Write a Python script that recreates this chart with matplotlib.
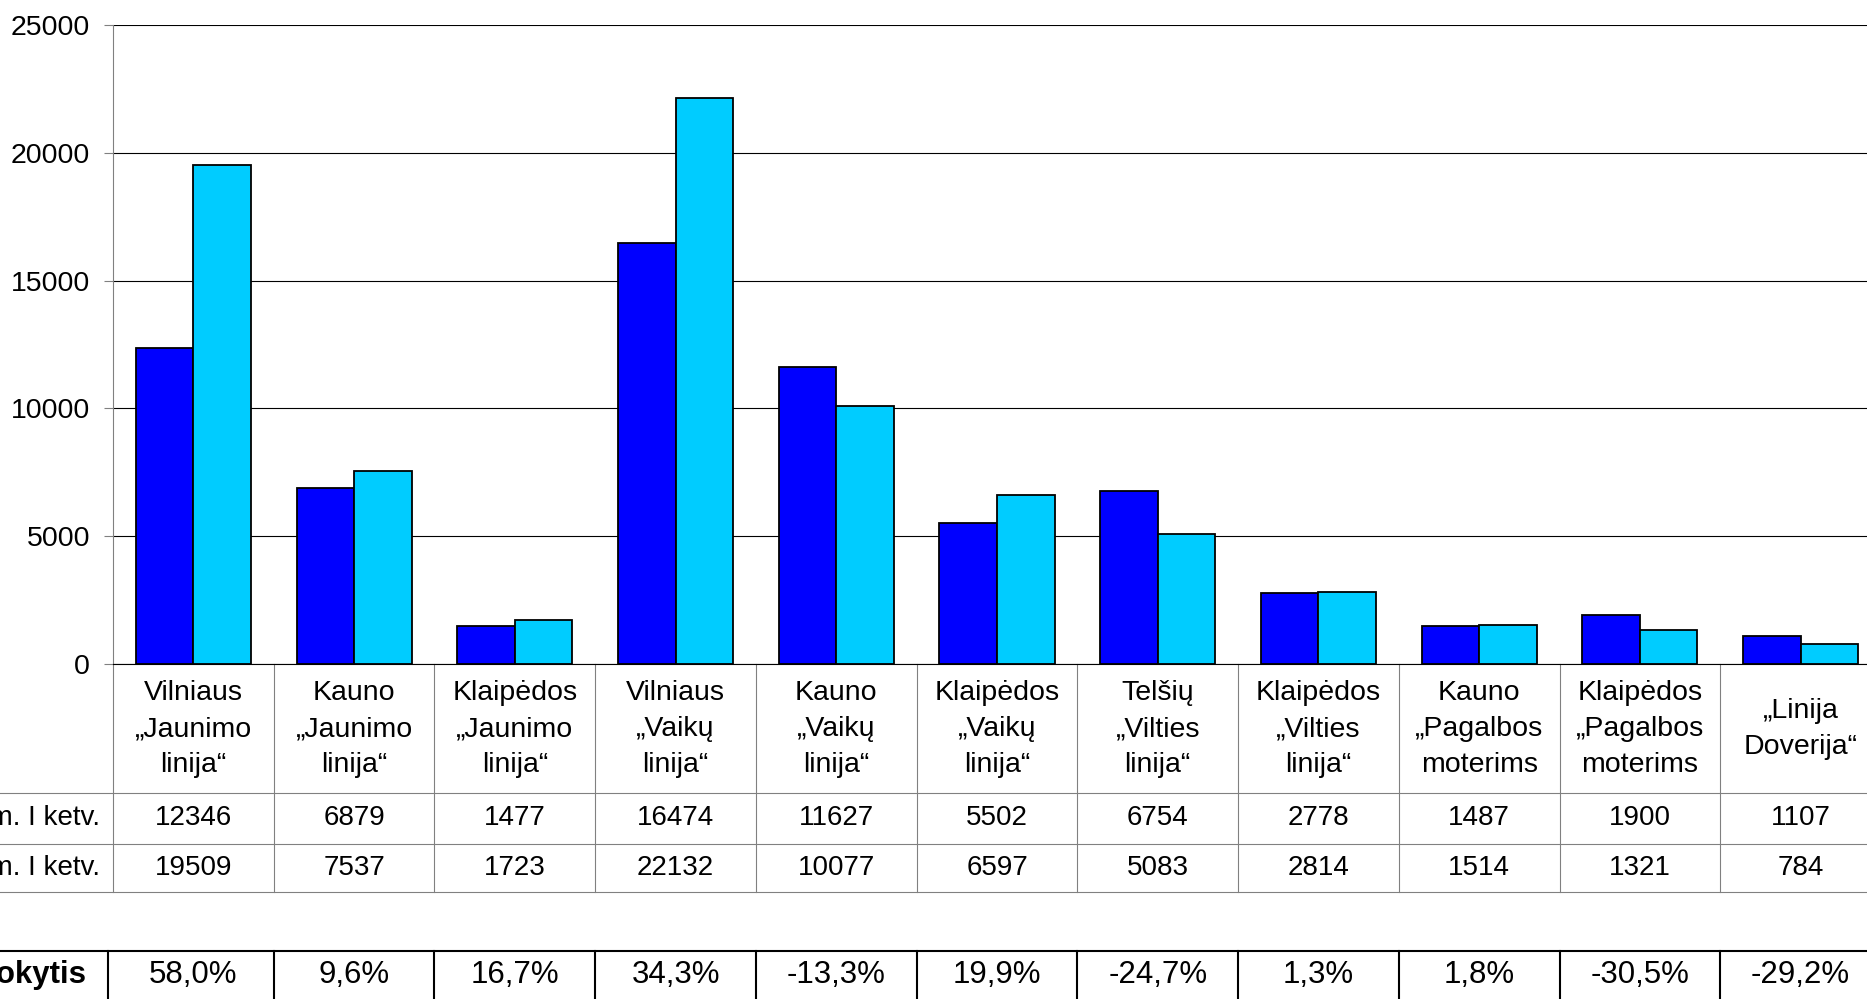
import matplotlib
matplotlib.use('Agg')
import matplotlib.pyplot as plt
import matplotlib.transforms as mtransforms
from matplotlib.lines import Line2D
import numpy as np

plt.rcParams['font.family'] = ['Liberation Sans', 'DejaVu Sans']
plt.rcParams['font.size'] = 20

categories = [
    'Vilniaus\n„Jaunimo\nlinija“', 'Kauno\n„Jaunimo\nlinija“', 'Klaipėdos\n„Jaunimo\nlinija“',
    'Vilniaus\n„Vaikų\nlinija“', 'Kauno\n„Vaikų\nlinija“', 'Klaipėdos\n„Vaikų\nlinija“',
    'Telšių\n„Vilties\nlinija“', 'Klaipėdos\n„Vilties\nlinija“', 'Kauno\n„Pagalbos\nmoterims',
    'Klaipėdos\n„Pagalbos\nmoterims', '„Linija\nDoverija“',
]
row_labels = ['2010 m. I ketv.', '2011 m. I ketv.']
values_prev = [12346, 6879, 1477, 16474, 11627, 5502, 6754, 2778, 1487, 1900, 1107]
values_curr = [19509, 7537, 1723, 22132, 10077, 6597, 5083, 2814, 1514, 1321, 784]
change_pct = [58.0, 9.6, 16.7, 34.3, -13.3, 19.9, -24.7, 1.3, 1.8, -30.5, -29.2]
change_label = 'Pokytis'
yticks = [0, 5000, 10000, 15000, 20000, 25000]

W, H = 1867, 999
fig = plt.figure(figsize=(W / 100, H / 100), dpi=100)


def fy(py):
    # pixel row from top -> figure fraction
    return 1 - py / H


ax = fig.add_axes([113 / W, fy(664), 1768 / W, 639 / H])
x = np.arange(len(categories))
bw = 0.358
ax.bar(x - bw / 2, values_prev, bw, color='#0000FF', edgecolor='black', linewidth=1.3, zorder=3)
ax.bar(x + bw / 2, values_curr, bw, color='#00CCFF', edgecolor='black', linewidth=1.3, zorder=3)

ax.set_xlim(-0.5, len(categories) - 0.5)
ax.set_ylim(0, 25000)
ax.set_yticks(yticks)
ax.set_xticks([])
ax.yaxis.grid(True, color='black', linewidth=0.8)
ax.set_axisbelow(True)
ax.tick_params(axis='y', length=6.5, width=0.8, pad=10, color='#808080', labelsize=20.5)
for s in ['top', 'right']:
    ax.spines[s].set_visible(False)
ax.spines['left'].set_color('#808080')
ax.spines['bottom'].set_color('black')

# table under the chart
tr = mtransforms.blended_transform_factory(ax.transData, fig.transFigure)
grey = '#808080'

for i, cat in enumerate(categories):
    ax.text(i, fy(729), cat, ha='center', va='center', transform=tr,
            fontsize=20.5, linespacing=1.5)
    ax.text(i, fy(818), str(values_prev[i]), ha='center', va='center', transform=tr)
    ax.text(i, fy(868), str(values_curr[i]), ha='center', va='center', transform=tr)
    pct = f'{change_pct[i]:.1f}%'.replace('.', ',')
    ax.text(i, fy(975), pct, ha='center', va='center', transform=tr, fontsize=22.5)

for k in range(len(categories) + 1):
    ax.add_line(Line2D([k - 0.5, k - 0.5], [fy(664), fy(892)], transform=tr,
                       color=grey, linewidth=0.8, clip_on=False))
for py in [793, 844, 892]:
    fig.add_artist(Line2D([0, 1], [fy(py), fy(py)], color=grey, linewidth=0.8))

fig.text(100 / W, fy(818), row_labels[0], ha='right', va='center')
fig.text(100 / W, fy(868), row_labels[1], ha='right', va='center')

# change row
fig.add_artist(Line2D([0, 1], [fy(951), fy(951)], color='black', linewidth=1.5))
fig.add_artist(Line2D([108 / W, 108 / W], [fy(951), 0], color='black', linewidth=1.5))
for k in range(1, len(categories) + 1):
    ax.add_line(Line2D([k - 0.5, k - 0.5], [fy(951), 0], transform=tr,
                       color='black', linewidth=1.5, clip_on=False))
fig.text(87 / W, fy(975), change_label, ha='right', va='center', fontweight='bold', fontsize=22.5)

fig.savefig('out.png', dpi=100)
